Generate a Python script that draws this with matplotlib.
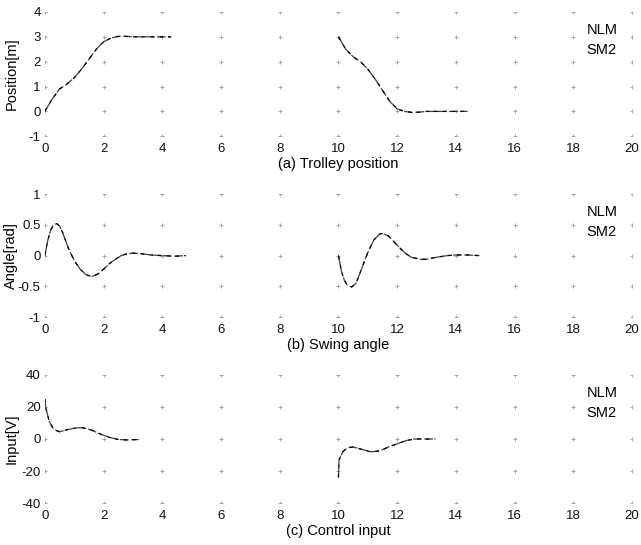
import numpy as np
import matplotlib
matplotlib.use("Agg")
import matplotlib.pyplot as plt

plt.rcParams['font.family'] = ['Liberation Sans', 'DejaVu Sans']

nan = np.nan

# (a) trolley position, two moves separated by a gap
pos_t = [0, 0.25, 0.5, 0.75, 1.0, 1.25, 1.5, 1.75, 2.0, 2.25, 2.5, 2.75, 3.0, 3.5, 4.3,
         nan,
         10.0, 10.25, 10.5, 10.75, 11.0, 11.25, 11.5, 11.75, 12.0, 12.25, 12.5, 12.75, 13.0, 14.4]
pos_nlm = [0, 0.5, 0.9, 1.1, 1.35, 1.7, 2.1, 2.5, 2.8, 2.95, 3.02, 3.02, 3.0, 3.0, 3.0,
           nan,
           3.0, 2.5, 2.2, 2.0, 1.7, 1.3, 0.85, 0.4, 0.1, 0.0, -0.04, -0.03, 0.0, 0.0]
pos_sm2 = pos_nlm  # both models overlap in the plot

# (b) swing angle
ang_t = [0, 0.1, 0.2, 0.3, 0.4, 0.5, 0.6, 0.7, 0.8, 0.9, 1.0, 1.2, 1.4, 1.6, 1.8, 2.0,
         2.2, 2.4, 2.6, 2.8, 3.0, 3.3, 3.6, 4.0, 4.4, 4.8,
         nan,
         10.0, 10.1, 10.2, 10.3, 10.45, 10.6, 10.8, 11.0, 11.2, 11.4, 11.5, 11.7, 11.9,
         12.1, 12.3, 12.5, 12.8, 13.0, 13.3, 13.7, 14.0, 14.4, 14.8]
ang_nlm = [0, 0.25, 0.42, 0.5, 0.52, 0.48, 0.38, 0.25, 0.12, 0.02, -0.08, -0.22, -0.31,
           -0.34, -0.3, -0.22, -0.13, -0.06, 0.0, 0.03, 0.04, 0.03, 0.01, 0.0, -0.01, 0.0,
           nan,
           0.0, -0.25, -0.4, -0.48, -0.51, -0.45, -0.2, 0.05, 0.25, 0.35, 0.36, 0.32, 0.22,
           0.12, 0.03, -0.03, -0.06, -0.06, -0.03, 0.0, 0.01, 0.01, 0.0]
ang_sm2 = ang_nlm

# (c) control input
inp_t = [0, 0.02, 0.05, 0.15, 0.3, 0.5, 0.8, 1.1, 1.3, 1.6, 1.9, 2.2, 2.5, 2.8, 3.2,
         nan,
         10.0, 10.02, 10.15, 10.3, 10.5, 10.8, 11.1, 11.4, 11.7, 12.0, 12.3, 12.6, 13.0, 13.3]
inp_nlm = [25, 21, 18, 11, 6, 4.5, 6, 7, 7, 5.5, 3, 1, -0.3, -0.6, -0.3,
           nan,
           -24, -13, -8, -5.5, -5, -6.5, -8, -7.5, -5, -3, -1, 0, 0, 0]
inp_sm2 = inp_nlm

panels = [
    (pos_t, pos_nlm, pos_sm2, 'Position[m]', '(a) Trolley position', [-1, 0, 1, 2, 3, 4], (-1, 4)),
    (ang_t, ang_nlm, ang_sm2, 'Angle[rad]', '(b) Swing angle', [-1, -0.5, 0, 0.5, 1], (-1, 1)),
    (inp_t, inp_nlm, inp_sm2, 'Input[V]', '(c) Control input', [-40, -20, 0, 20, 40], (-40, 40)),
]
rects = [[0.070, 0.750, 0.916, 0.228],
         [0.070, 0.418, 0.916, 0.226],
         [0.070, 0.077, 0.916, 0.235]]

fig = plt.figure(figsize=(6.41, 5.45), dpi=100)
for (t, nlm, sm2, ylab, title, yt, ylim), r in zip(panels, rects):
    ax = fig.add_axes(r)
    xt = np.arange(0, 21, 2)
    # faint "+" marks at grid crossings, like the scanned original
    gx, gy = np.meshgrid(xt, yt)
    ax.plot(gx.ravel(), gy.ravel(), '+', color='0.6', ms=3, mew=0.6, zorder=1)
    ax.plot(t, nlm, color='0.25', lw=0.9, dashes=(7, 2), label='NLM', zorder=3)
    ax.plot(t, sm2, color='black', lw=0.9, dashes=(3, 4), label='SM2', zorder=4)
    ax.set_xlim(0, 20)
    ax.set_ylim(*ylim)
    ax.set_xticks(xt)
    ax.set_yticks(yt)
    ax.set_yticklabels([('%g' % v) for v in yt])
    ax.tick_params(length=0, labelsize=9.5, pad=3, labelcolor='#111111')
    ax.tick_params(axis='x', pad=5)
    for s in ax.spines.values():
        s.set_visible(False)
    ax.set_ylabel(ylab, fontsize=10.5)
    ax.yaxis.set_label_coords(-0.045, 0.5)
    ax.set_xlabel(title, fontsize=10.5, labelpad=1.5)
    leg = ax.legend(loc='upper right', frameon=False, fontsize=10.5,
                    handlelength=0, handletextpad=0, borderaxespad=0.2,
                    labelspacing=0.4, bbox_to_anchor=(0.99, 0.98))
    for h in leg.legend_handles:
        h.set_visible(False)

fig.savefig('out.png', dpi=100)
